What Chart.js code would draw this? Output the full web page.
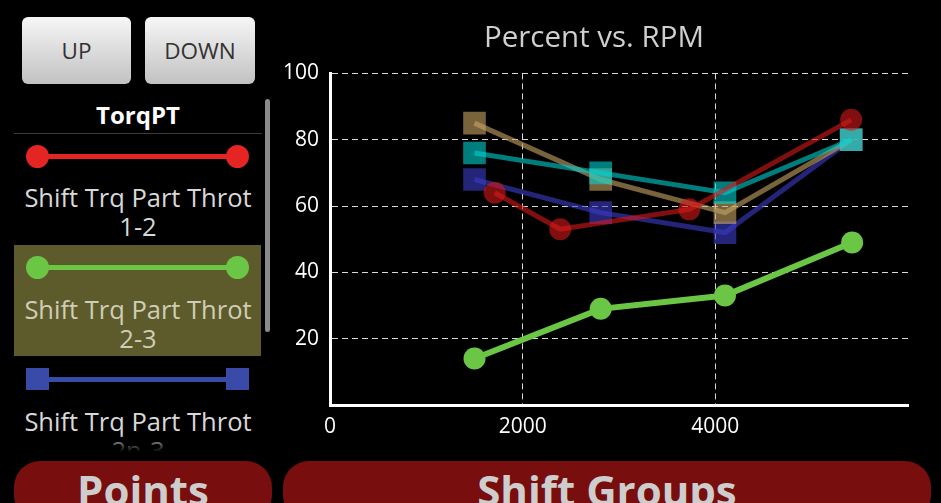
<!DOCTYPE html>
<html>
<head>
<meta charset="utf-8">
<script src="https://cdn.jsdelivr.net/npm/chart.js@4.4.1/dist/chart.umd.min.js"></script>
<style>
  body { margin: 0; background: #000; width: 941px; height: 503px; overflow: hidden; position: relative;
         font-family: "Open Sans", "Noto Sans", sans-serif; }
  .btn { position: absolute; top: 17px; height: 67px; border-radius: 6px;
         background: linear-gradient(#f6f6f6, #c2c2c2); color: #333; font-size: 22.5px;
         line-height: 67px; text-align: center; }
  .abs { position: absolute; }
  .item-text { position: absolute; left: 14px; width: 248px; text-align: center; font-size: 25.5px;
               line-height: 29px; color: #d8d8d8; white-space: nowrap; }
  .dot { position: absolute; width: 23px; height: 23px; border-radius: 50%; }
  .sq { position: absolute; width: 23px; height: 22px; }
  .bar { position: absolute; height: 5px; }
  .big { position: absolute; top: 461px; height: 60px; border-radius: 26px; background: #780e0e;
         color: #cdcdcd; font-weight: bold; font-size: 42px; line-height: 42px; text-align: center;
         padding-top: 8px; box-sizing: border-box; }
  #chartBox { position: absolute; left: 280px; top: 0; width: 661px; height: 460px; }
</style>
</head>
<body>
<div class="btn" style="left:22px; width:109px;">UP</div>
<div class="btn" style="left:145px; width:110px;">DOWN</div>

<div class="abs" style="left:14px; top:99px; width:248px; text-align:center; font-weight:bold; font-size:24px; line-height:32px; color:#fff;">TorqPT</div>
<div class="abs" style="left:14px; top:133px; width:248px; height:1px; background:#3c3c3c;"></div>

<div class="abs" style="left:0; top:134px; width:280px; height:318px; overflow:hidden;">
  <div style="position:relative; top:-134px;">
    <div class="bar" style="left:40px; width:196px; top:154px; background:#e52424;"></div>
    <div class="dot" style="left:26px; top:145px; background:#e52424;"></div>
    <div class="dot" style="left:226px; top:145px; background:#e52424;"></div>
    <div class="item-text" style="top:183px;">Shift Trq Part Throt</div>
    <div class="item-text" style="top:212px;">1-2</div>

    <div class="abs" style="left:14px; top:245px; width:247px; height:111px; background:#5d5b2b;"></div>
    <div class="bar" style="left:40px; width:196px; top:265px; background:#6ac644;"></div>
    <div class="dot" style="left:26px; top:256px; background:#6ac644;"></div>
    <div class="dot" style="left:226px; top:256px; background:#6ac644;"></div>
    <div class="item-text" style="top:295px; color:#cfceb4;">Shift Trq Part Throt</div>
    <div class="item-text" style="top:324px; color:#cfceb4;">2-3</div>

    <div class="bar" style="left:40px; width:196px; top:377px; background:#3a4aa8;"></div>
    <div class="sq" style="left:26px; top:368px; background:#3a4aa8;"></div>
    <div class="sq" style="left:226px; top:368px; background:#3a4aa8;"></div>
    <div class="item-text" style="top:407px;">Shift Trq Part Throt</div>
    <div class="item-text" style="top:436px;">2n-3</div>
  </div>
  <div class="abs" style="left:0; top:300px; width:280px; height:18px; background:linear-gradient(rgba(0,0,0,0), #000);"></div>
</div>
<div class="abs" style="left:265px; top:99px; width:5px; height:233px; border-radius:3px; background:#8a8a8a;"></div>

<div class="big" style="left:14px; width:258px;">Points</div>
<div class="big" style="left:283px; width:648px;">Shift Groups</div>

<div id="chartBox"><canvas id="rpmChart" width="661" height="460"></canvas></div>

<script>
// Axis ticks
const rpmTicks = [0, 2000, 4000];
const pctTicks = [20, 40, 60, 80, 100];

// Series data (RPM / percent)
const rpm12 = [1710, 2390, 3730, 5410];
const pct12 = [64, 53, 59, 86];
const rpm23 = [1500, 2810, 4100, 5420];
const pct23 = [14, 29, 33, 49];
const rpmSquares = [1500, 2810, 4100, 5410];
const pct2n3 = [68, 58, 52, 80];
const pctTeal = [76, 70, 64, 80];
const pctTan = [85, 68, 58, 80];

const FONT = '"Open Sans", "Noto Sans", sans-serif';

function toPoints(xs, ys) {
    return xs.map((x, i) => ({ x: x, y: ys[i] }));
}

function makeSeries(label, xs, ys, color, style, order, width) {
    return {
        label: label,
        data: toPoints(xs, ys),
        borderColor: color,
        backgroundColor: color,
        pointBackgroundColor: color,
        pointBorderWidth: 0,
        pointStyle: style,
        pointRadius: style === 'rect' ? 16 : 11,
        borderWidth: width,
        tension: 0,
        order: order
    };
}

const datasets = [
    makeSeries('Shift Trq Part Throt 2-3', rpm23, pct23, '#6ac644', 'circle', 0, 6),
    makeSeries('Shift Trq Part Throt 1-2', rpm12, pct12, 'rgba(215, 25, 25, 0.6)', 'circle', 1, 5),
    makeSeries('Shift Trq Part Throt 3-4', rpmSquares, pctTeal, 'rgba(0, 210, 210, 0.6)', 'rect', 2, 5),
    makeSeries('Shift Trq Part Throt 4-5', rpmSquares, pctTan, 'rgba(200, 165, 100, 0.6)', 'rect', 3, 5),
    makeSeries('Shift Trq Part Throt 2n-3', rpmSquares, pct2n3, 'rgba(60, 60, 200, 0.6)', 'rect', 4, 5)
];

const gridOpts = { color: 'rgba(255, 255, 255, 0.85)', lineWidth: 1, drawTicks: false };
const borderOpts = { display: true, color: '#ffffff', width: 3, dash: [6, 4] };

new Chart(document.getElementById('rpmChart'), {
    type: 'line',
    data: { datasets: datasets },
    options: {
        responsive: false,
        devicePixelRatio: 1,
        animation: false,
        layout: { padding: { left: 0, right: 33, top: 0, bottom: 0 } },
        plugins: {
            legend: { display: false },
            tooltip: { enabled: false },
            title: {
                display: true,
                text: 'Percent vs. RPM',
                color: '#cfcfcf',
                font: { family: FONT, size: 29.5, weight: 'normal' },
                padding: { top: 21, bottom: 17 }
            }
        },
        scales: {
            x: {
                type: 'linear',
                min: 0,
                max: 6000,
                grid: gridOpts,
                border: borderOpts,
                afterBuildTicks: s => { s.ticks = rpmTicks.map(v => ({ value: v })); },
                afterFit: s => { s.height = 55; },
                ticks: { color: '#ffffff', font: { family: FONT, size: 21 }, padding: 9,
                         callback: v => String(v) }
            },
            y: {
                type: 'linear',
                min: 0,
                max: 100,
                grid: gridOpts,
                border: borderOpts,
                afterBuildTicks: s => { s.ticks = pctTicks.map(v => ({ value: v })); },
                afterFit: s => { s.width = 50; },
                ticks: { color: '#ffffff', font: { family: FONT, size: 21 }, padding: 11 }
            }
        }
    }
});
</script>
</body>
</html>
